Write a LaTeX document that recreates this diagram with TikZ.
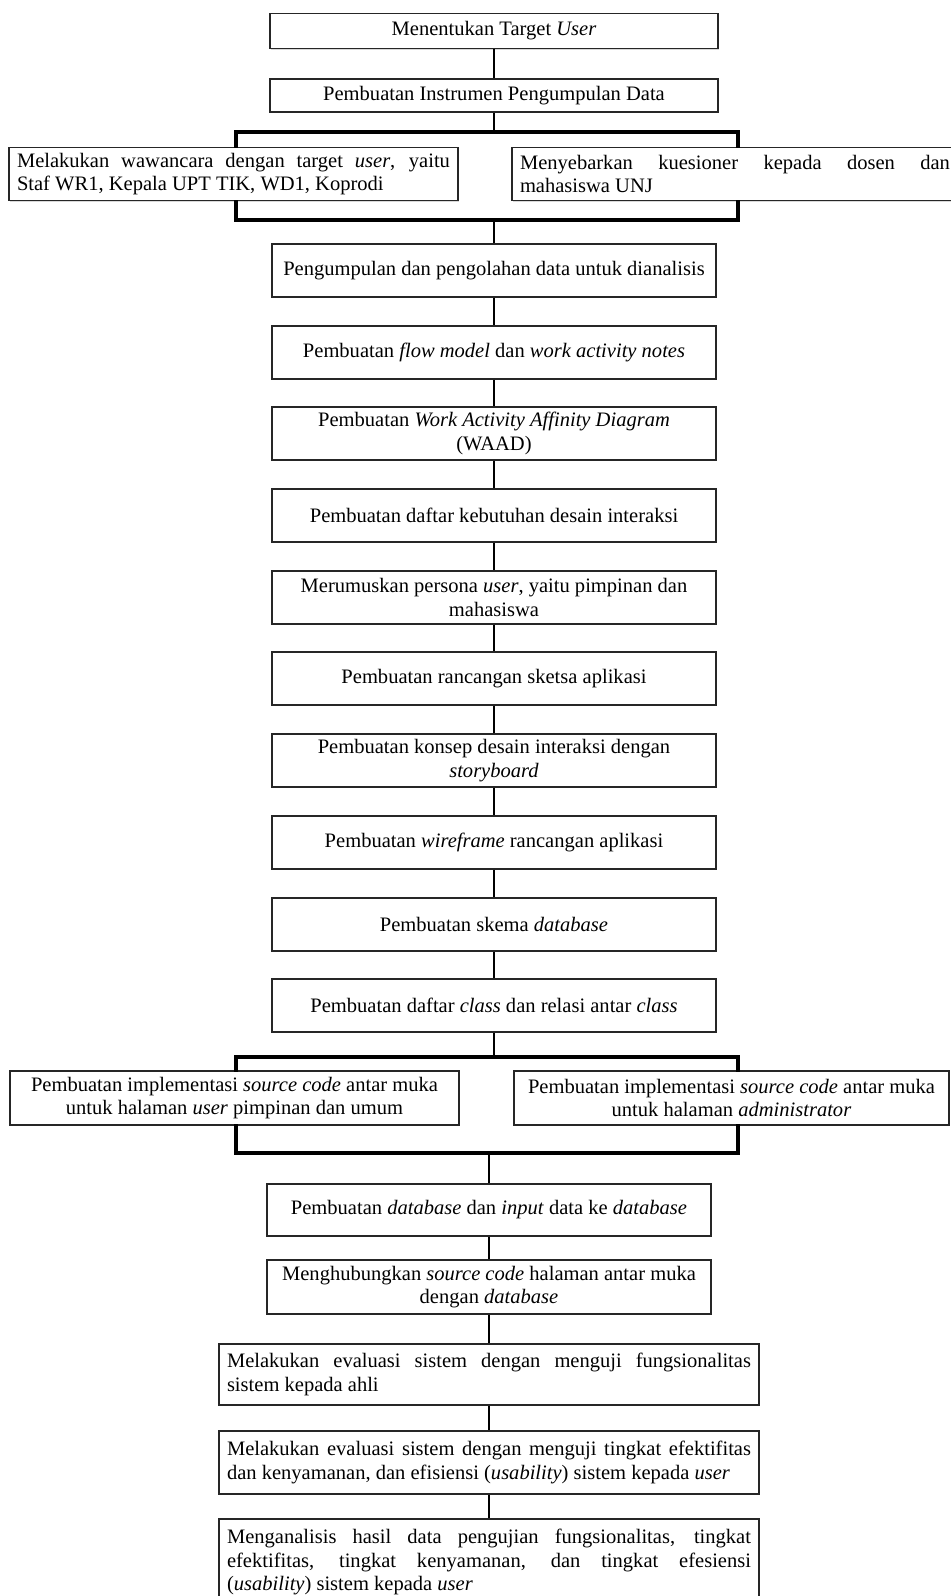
\documentclass[tikz,border=0pt]{standalone}
\usepackage{fontspec}
\setmainfont{Liberation Serif}
\usetikzlibrary{shadows}
\begin{document}
\begin{tikzpicture}[x=0.75pt,y=-0.75pt,
  box/.style={draw=black!85, line width=0.8pt, fill=white,
    drop shadow={shadow xshift=1pt, shadow yshift=-1pt, opacity=0.3},
    inner xsep=6pt, inner ysep=2pt,
    font=\fontsize{15.4pt}{17.5pt}\selectfont, align=center},
  jbox/.style={box, align=justify,
    execute at begin node={\tolerance=10000\hyphenpenalty=10000\emergencystretch=0pt}},
  conn/.style={line width=1.4pt},
  bk/.style={line width=2.4pt, line cap=rect}]
\path[use as bounding box, fill=white] (0,0) rectangle (950,1596);

% top part
\node[box, minimum width=336pt, minimum height=26pt] (b1) at (494,31) {Menentukan Target \textit{User}};
\node[box, minimum width=336pt, minimum height=24.75pt] (b2) at (494,95.5) {Pembuatan Instrumen Pengumpulan Data};

\node[jbox, text width=324.75pt, minimum width=336.75pt, minimum height=40pt] (b3) at (233.5,174)
  {Melakukan wawancara dengan target \textit{user}, yaitu\linebreak Staf WR1, Kepala UPT TIK, WD1, Koprodi};
\node[jbox, text width=322.5pt, minimum width=334.5pt, minimum height=40pt] (b4) at (735,174)
  {Menyebarkan kuesioner kepada dosen dan\linebreak mahasiswa UNJ};

\node[box, minimum width=333pt, minimum height=39.75pt] (b5) at (494,270.5) {Pengumpulan dan pengolahan data untuk dianalisis};
\node[box, minimum width=333pt, minimum height=39.75pt] (b6) at (494,352.5) {Pembuatan \textit{flow model} dan \textit{work activity notes}};
\node[box, minimum width=333pt, minimum height=39.75pt] (b7) at (494,433.5) {Pembuatan \textit{Work Activity Affinity Diagram}\\(WAAD)};
\node[box, minimum width=333pt, minimum height=39.75pt] (b8) at (494,515.5) {Pembuatan daftar kebutuhan desain interaksi};
\node[box, minimum width=333pt, minimum height=39.75pt] (b9) at (494,597.5) {Merumuskan persona \textit{user}, yaitu pimpinan dan\\mahasiswa};
\node[box, minimum width=333pt, minimum height=39.75pt] (b10) at (494,678.5) {Pembuatan rancangan sketsa aplikasi};
\node[box, minimum width=333pt, minimum height=39.75pt] (b11) at (494,760.5) {Pembuatan konsep desain interaksi dengan\\\textit{storyboard}};
\node[box, minimum width=333pt, minimum height=39.75pt] (b12) at (494,842.5) {Pembuatan \textit{wireframe} rancangan aplikasi};
\node[box, minimum width=333pt, minimum height=39.75pt] (b13) at (494,924.5) {Pembuatan skema \textit{database}};
\node[box, minimum width=333pt, minimum height=39.75pt] (b14) at (494,1005.5) {Pembuatan daftar \textit{class} dan relasi antar \textit{class}};

\node[box, minimum width=336.75pt, minimum height=40.5pt] (b15) at (234.5,1098)
  {Pembuatan implementasi \textit{source code} antar muka\\untuk halaman \textit{user} pimpinan dan umum};
\node[box, minimum width=326.25pt, minimum height=40.5pt] (b16) at (731.5,1098)
  {Pembuatan implementasi \textit{source code} antar muka\\untuk halaman \textit{administrator}};

\node[box, minimum width=333pt, minimum height=39pt] (b17) at (489,1210) {Pembuatan \textit{database} dan \textit{input} data ke \textit{database}};
\node[box, minimum width=333pt, minimum height=40.5pt] (b18) at (489,1287) {Menghubungkan \textit{source code} halaman antar muka\\dengan \textit{database}};

\node[jbox, text width=393pt, minimum width=405pt, minimum height=45.75pt] (b19) at (489,1374.5)
  {Melakukan evaluasi sistem dengan menguji fungsionalitas\linebreak sistem kepada ahli};
\node[jbox, text width=393pt, minimum width=405pt, minimum height=47.25pt] (b20) at (489,1462.5)
  {Melakukan evaluasi sistem dengan menguji tingkat efektifitas\linebreak dan kenyamanan, dan efisiensi (\textit{usability}) sistem kepada \textit{user}};
\node[jbox, text width=393pt, minimum width=405pt, minimum height=64.5pt] (b21) at (489,1562)
  {Menganalisis hasil data pengujian fungsionalitas, tingkat\linebreak efektifitas, tingkat kenyamanan, dan tingkat efesiensi\linebreak (\textit{usability}) sistem kepada \textit{user}};

% bracket coordinates
\coordinate (t1) at (494,132);
\coordinate (tl) at (236,132);
\coordinate (tr) at (738,132);
\coordinate (u1) at (494,220);
\coordinate (ul) at (236,220);
\coordinate (ur) at (738,220);
\coordinate (t2) at (494,1057);
\coordinate (t2l) at (236,1057);
\coordinate (t2r) at (738,1057);
\coordinate (u2) at (489,1153);
\coordinate (u2l) at (236,1153);
\coordinate (u2r) at (738,1153);

% connectors
\draw[conn] (b1) -- (b2);
\draw[conn] (b2) -- (t1);
\draw[bk] (b3.north -| tl) -- (tl) -- (tr) -- (b4.north -| tr);
\draw[bk] (b3.south -| ul) -- (ul) -- (ur) -- (b4.south -| ur);
\draw[conn] (u1) -- (b5);
\draw[conn] (b5) -- (b6);
\draw[conn] (b6) -- (b7);
\draw[conn] (b7) -- (b8);
\draw[conn] (b8) -- (b9);
\draw[conn] (b9) -- (b10);
\draw[conn] (b10) -- (b11);
\draw[conn] (b11) -- (b12);
\draw[conn] (b12) -- (b13);
\draw[conn] (b13) -- (b14);
\draw[conn] (b14) -- (t2);
\draw[bk] (b15.north -| t2l) -- (t2l) -- (t2r) -- (b16.north -| t2r);
\draw[bk] (b15.south -| u2l) -- (u2l) -- (u2r) -- (b16.south -| u2r);
\draw[conn] (u2) -- (b17);
\draw[conn] (b17) -- (b18);
\draw[conn] (b18) -- (b19);
\draw[conn] (b19) -- (b20);
\draw[conn] (b20) -- (b21);
\end{tikzpicture}
\end{document}
